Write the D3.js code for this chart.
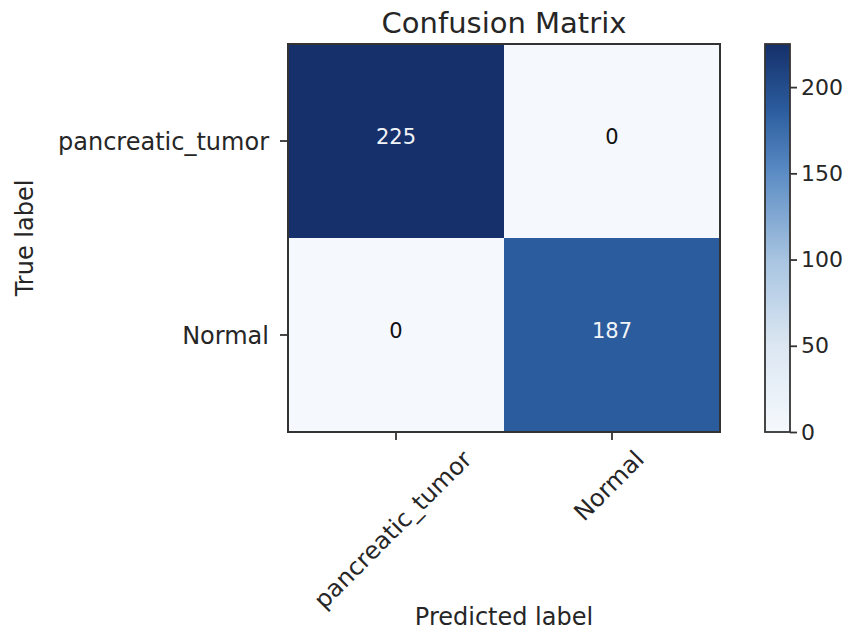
<!DOCTYPE html>
<html>
<head>
<meta charset="utf-8">
<script src="https://cdn.jsdelivr.net/npm/d3@7"></script>
<style>
  html, body { margin: 0; padding: 0; background: #fff; }
  svg text { font-family: "DejaVu Sans", sans-serif; fill: #262626; }
</style>
</head>
<body>
<svg id="chart" width="852" height="634"></svg>
<script>
// Confusion matrix data
const classes = ["pancreatic_tumor", "Normal"];
const matrix = [
  [225, 0],
  [0, 187]
];
const colorbarTicks = [0, 50, 100, 150, 200];
const title = "Confusion Matrix";
const xLabel = "Predicted label";
const yLabel = "True label";

const svg = d3.select("#chart");

const plot = { left: 288, right: 720, top: 44, bottom: 432 };
const vmax = d3.max(matrix.flat());
const vmin = d3.min(matrix.flat());

const x = d3.scaleBand().domain(d3.range(classes.length)).range([plot.left, plot.right]);
const y = d3.scaleBand().domain(d3.range(classes.length)).range([plot.top, plot.bottom]);

// Blues-style sequential ramp, light at the low end, navy at the top
const rampStops = [0, 0.22, 0.44, 0.67, 0.83, 1];
const rampColors = ["#f5f9fd", "#dce7f2", "#a9c5e1", "#5b8bc4", "#2b5c9e", "#15306a"];
const ramp = d3.scaleLinear().domain(rampStops).range(rampColors).interpolate(d3.interpolateRgb);
const color = v => ramp((v - vmin) / (vmax - vmin));

// Cells
const cells = [];
matrix.forEach((row, i) => row.forEach((v, j) => cells.push({ i, j, v })));

svg.append("g").selectAll("rect").data(cells).join("rect")
  .attr("x", d => x(d.j)).attr("y", d => y(d.i))
  .attr("width", x.bandwidth()).attr("height", y.bandwidth())
  .attr("fill", d => color(d.v));

const thresh = vmax / 2;
svg.append("g").selectAll("text").data(cells).join("text")
  .attr("x", d => x(d.j) + x.bandwidth() / 2)
  .attr("y", d => y(d.i) + y.bandwidth() / 2 - 4)
  .attr("text-anchor", "middle")
  .attr("dominant-baseline", "central")
  .style("font-size", "21px")
  .style("fill", d => d.v > thresh ? "#f2f4f8" : "#111111")
  .text(d => d.v);

// Frame
svg.append("rect")
  .attr("x", plot.left).attr("y", plot.top)
  .attr("width", plot.right - plot.left).attr("height", plot.bottom - plot.top)
  .attr("fill", "none").attr("stroke", "#333").attr("stroke-width", 2);

// Y axis ticks and labels
const yTicks = svg.append("g");
classes.forEach((c, i) => {
  const cy = y(i) + y.bandwidth() / 2;
  yTicks.append("line").attr("x1", plot.left - 8).attr("x2", plot.left)
    .attr("y1", cy).attr("y2", cy).attr("stroke", "#333").attr("stroke-width", 1.8);
  yTicks.append("text").attr("x", plot.left - 19).attr("y", cy + 1)
    .attr("text-anchor", "end").attr("dominant-baseline", "central")
    .style("font-size", "24px").text(c);
});

// X axis ticks and rotated labels
const xTicks = svg.append("g");
classes.forEach((c, j) => {
  const cx = x(j) + x.bandwidth() / 2;
  xTicks.append("line").attr("x1", cx).attr("x2", cx)
    .attr("y1", plot.bottom).attr("y2", plot.bottom + 8)
    .attr("stroke", "#333").attr("stroke-width", 1.8);
  const t = xTicks.append("text")
    .attr("text-anchor", "middle").attr("dominant-baseline", "central")
    .style("font-size", "24px").text(c);
  const w = t.node().getComputedTextLength();
  const h = 20;
  const half = (w + h) * Math.SQRT1_2 / 2;
  const top = plot.bottom + 16;
  t.attr("transform", `translate(${cx - 3},${top + half}) rotate(-45)`);
});

// Title and axis labels
svg.append("text").attr("x", (plot.left + plot.right) / 2).attr("y", 33)
  .attr("text-anchor", "middle").style("font-size", "29px").text(title);
svg.append("text").attr("x", (plot.left + plot.right) / 2).attr("y", 625)
  .attr("text-anchor", "middle").style("font-size", "24px").text(xLabel);
svg.append("text")
  .attr("transform", `translate(33,${(plot.top + plot.bottom) / 2}) rotate(-90)`)
  .attr("text-anchor", "middle").style("font-size", "24px").text(yLabel);

// Colorbar
const cb = { left: 765, width: 25, top: plot.top, bottom: plot.bottom };
const cbScale = d3.scaleLinear().domain([vmin, vmax]).range([cb.bottom, cb.top]);
const defs = svg.append("defs");
const grad = defs.append("linearGradient").attr("id", "cbgrad")
  .attr("x1", 0).attr("y1", 1).attr("x2", 0).attr("y2", 0);
d3.range(0, 1.0001, 0.02).forEach(s => {
  grad.append("stop").attr("offset", s).attr("stop-color", color(vmin + s * (vmax - vmin)));
});
svg.append("rect").attr("x", cb.left).attr("y", cb.top)
  .attr("width", cb.width).attr("height", cb.bottom - cb.top)
  .attr("fill", "url(#cbgrad)").attr("stroke", "#333").attr("stroke-width", 1.8);

const cbAxis = d3.axisRight(cbScale).tickValues(colorbarTicks).tickSize(7).tickPadding(4);
const cbG = svg.append("g").attr("transform", `translate(${cb.left + cb.width},0)`).call(cbAxis);
cbG.select(".domain").remove();
cbG.selectAll(".tick line").attr("stroke", "#333").attr("stroke-width", 1.8);
cbG.selectAll(".tick text").style("font-size", "22px")
  .style("font-family", "DejaVu Sans, sans-serif").attr("fill", "#262626");
</script>
</body>
</html>
